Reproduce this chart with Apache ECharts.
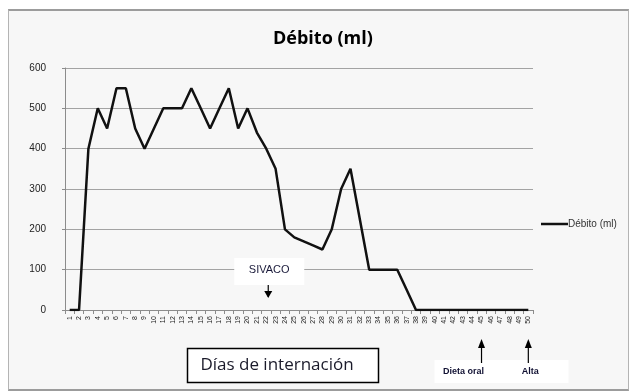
<!DOCTYPE html>
<html>
<head>
<meta charset="utf-8">
<script src="https://cdn.jsdelivr.net/npm/echarts@6/dist/echarts.min.js"></script>
<style>
html,body{margin:0;padding:0;background:#ffffff;}
#frame{position:absolute;left:8px;top:9px;width:619px;height:378px;background:#f7f7f7;border:1px solid #b4b4b4;border-top:2px solid #9c9c9c;border-bottom:2px solid #9c9c9c;}
#chart{position:absolute;left:0;top:0;width:631px;height:392px;}
</style>
</head>
<body>
<div id="frame"></div>
<div id="chart"></div>
<script>
// Days of hospitalisation (category axis)
const days = ['1','2','3','4','5','6','7','8','9','10','11','12','13','14','15','16','17','18','19','20',
  '21','22','23','24','25','26','27','28','29','30','31','32','33','34','35','36','37','38','39','40',
  '41','42','43','44','45','46','47','48','49','50'];
// Débito (ml)
const debito = [0,0,400,500,450,550,550,450,400,450,500,500,500,550,500,450,500,550,450,500,
  440,400,350,200,180,170,160,150,200,300,350,225,100,100,100,100,50,0,0,0,
  0,0,0,0,0,0,0,0,0,0];
const yTicks = [0,100,200,300,400,500,600];
// Annotations: label, day, direction
const notesDown = [{label:'SIVACO', day:'22'}];
const notesUp = [{label:'Dieta oral', day:'45'}, {label:'Alta', day:'50'}];
const seriesName = 'Débito (ml)';

const chart = echarts.init(document.getElementById('chart'), null, {renderer:'canvas'});
const option = {
  animation:false,
  title:{text:'Débito (ml)', left:268, top:25,
    textStyle:{fontFamily:'Open Sans', fontWeight:'bold', fontSize:18, color:'#000'}},
  legend:{data:[seriesName], left:536, top:214, orient:'vertical', icon:'rect', itemWidth:27, itemHeight:2.5, itemGap:0,
    textStyle:{fontFamily:'Liberation Sans Narrow, Liberation Sans', fontSize:10, color:'#333', padding:[0,0,0,-5]}},
  grid:{left:65, right:98, top:68, bottom:82, containLabel:false},
  xAxis:{type:'category', data:days, boundaryGap:true,
    axisLine:{show:true, lineStyle:{color:'#8c8c8c', width:1}},
    axisTick:{show:true, interval:0, length:4, lineStyle:{color:'#8c8c8c'}},
    axisLabel:{interval:0, rotate:90, fontSize:7, margin:6, color:'#222', fontFamily:'Liberation Sans'},
    splitLine:{show:false}},
  yAxis:{type:'value', min:yTicks[0], max:yTicks[yTicks.length-1], interval:100,
    axisLine:{show:true, lineStyle:{color:'#8c8c8c', width:1}},
    axisTick:{show:true, length:3, lineStyle:{color:'#8c8c8c'}},
    axisLabel:{fontSize:10, color:'#222', margin:19, fontFamily:'Liberation Sans Narrow, Liberation Sans'},
    splitLine:{show:true, lineStyle:{color:'#a3a3a3', width:1.2}}},
  series:[{name:seriesName, type:'line', data:debito, symbol:'none', smooth:false,
    lineStyle:{color:'#111', width:2.5}, itemStyle:{color:'#111'}}]
};
chart.setOption(option);

const graphics = [];
const baseY = chart.convertToPixel({yAxisIndex:0}, 0);
notesDown.forEach(n=>{
  const x = chart.convertToPixel({xAxisIndex:0}, n.day);
  graphics.push({type:'rect', shape:{x:x-32, y:baseY-52, width:70, height:27}, style:{fill:'#ffffff'}, z:10});
  graphics.push({type:'text', x:x+3, y:baseY-40, style:{text:n.label, fontSize:11, fontFamily:'Liberation Sans Narrow, Liberation Sans', fill:'#1a1a3a', align:'center', verticalAlign:'middle'}, z:11});
  graphics.push({type:'line', shape:{x1:x+2, y1:baseY-25, x2:x+2, y2:baseY-13}, style:{stroke:'#000', lineWidth:1.2}, z:11});
  graphics.push({type:'polygon', shape:{points:[[x-2,baseY-19],[x+6,baseY-19],[x+2,baseY-12]]}, style:{fill:'#000'}, z:11});
});
// white box behind the lower notes
const xs = notesUp.map(n=>chart.convertToPixel({xAxisIndex:0}, n.day));
graphics.push({type:'rect', shape:{x:xs[0]-47, y:baseY+50, width:134, height:23}, style:{fill:'#ffffff'}, z:10});
notesUp.forEach((n,i)=>{
  const x = xs[i];
  graphics.push({type:'line', shape:{x1:x, y1:baseY+53, x2:x, y2:baseY+33}, style:{stroke:'#000', lineWidth:1.2}, z:11});
  graphics.push({type:'polygon', shape:{points:[[x-3.5,baseY+38],[x+3.5,baseY+38],[x,baseY+29]]}, style:{fill:'#000'}, z:11});
  graphics.push({type:'text', x: i===0 ? x-18 : x+2, y:baseY+62, style:{text:n.label, fontSize:9, fontWeight:'bold', fontFamily:'Liberation Sans Narrow, Liberation Sans', fill:'#111133', align:'center', verticalAlign:'middle'}, z:11});
});
// axis title box
graphics.push({type:'rect', shape:{x:187.5, y:348.5, width:191, height:34}, style:{fill:'#ffffff', stroke:'#000', lineWidth:1.5}, z:10});
graphics.push({type:'text', x:277, y:365, style:{text:'Días de internación', fontSize:17, fontFamily:'Open Sans', fill:'#1a1a2a', align:'center', verticalAlign:'middle'}, z:11});
chart.setOption({graphic:graphics});
</script>
</body>
</html>
